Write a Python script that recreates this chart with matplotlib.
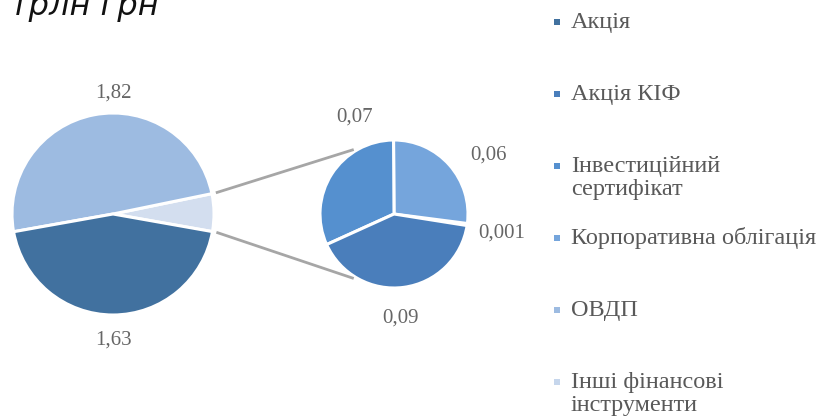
import matplotlib
matplotlib.use("Agg")
import numpy as np
import matplotlib.pyplot as plt

# data (трлн грн)
categories = [
    "Акція",
    "Акція КІФ",
    "Інвестиційний\nсертифікат",
    "Корпоративна облігація",
    "ОВДП",
    "Інші фінансові\nінструменти",
]
colors = ["#41719F", "#4A7EBB", "#5590CF", "#75A5DC", "#9DBBE1", "#C6D6EC"]

# main pie: ОВДП, Акція (plus the combined "other" slice)
main_values = [1.82, 1.63]
main_idx = [4, 0]
# secondary pie: Інші, Корпоративна, Інвестиційний, Акція КІФ
sub_values = [0.001, 0.06, 0.07, 0.09]
sub_idx = [5, 3, 2, 1]
other_color = "#D3DEEF"

W, H = 826, 419
fig = plt.figure(figsize=(W / 100, H / 100), dpi=100)
ax = fig.add_axes([0, 0, 1, 1])

main_c, main_r = (113, H - 214), 101
sub_c, sub_r = (394, H - 214), 74
edge = dict(edgecolor="white", linewidth=2.2)

main_all = [sum(sub_values)] + main_values
main_cols = [other_color] + [colors[i] for i in main_idx]
frac = main_all[0] / sum(main_all) * 360
w_main, _ = ax.pie(main_all, colors=main_cols, center=main_c, radius=main_r,
                   startangle=-frac / 2 + 0.8, counterclock=True, wedgeprops=edge)
w_sub, _ = ax.pie(sub_values, colors=[colors[i] for i in sub_idx], center=sub_c,
                  radius=sub_r, startangle=-9, counterclock=True, wedgeprops=edge)

# connector lines from the "other" slice to the secondary pie
oth = w_main[0]
for th_main, th_sub in [(oth.theta2, 122), (oth.theta1, 238)]:
    a, b = np.deg2rad(th_main), np.deg2rad(th_sub)
    x0 = main_c[0] + (main_r + 4) * np.cos(a)
    y0 = main_c[1] + (main_r + 4) * np.sin(a)
    x1 = sub_c[0] + (sub_r + 2) * np.cos(b)
    y1 = sub_c[1] + (sub_r + 2) * np.sin(b)
    ax.plot([x0, x1], [y0, y1], color="#A6A6A6", linewidth=2, solid_capstyle="butt")


def fmt(v):
    return str(v).replace(".", ",")


label_kw = dict(ha="center", va="center", fontsize=15, color="#666666",
                family="Liberation Serif")
# label placement: (angle deg, distance in radii)
main_lab = [(90, 1.2), (-90, 1.25)]
for v, (ang, d) in zip(main_values, main_lab):
    a = np.deg2rad(ang)
    ax.text(main_c[0] + d * main_r * np.cos(a), main_c[1] + d * main_r * np.sin(a),
            fmt(v), **label_kw)
sub_lab = [(-10, 1.48), (32, 1.5), (112, 1.41), (-86.7, 1.41)]
for v, (ang, d) in zip(sub_values, sub_lab):
    a = np.deg2rad(ang)
    ax.text(sub_c[0] + d * sub_r * np.cos(a), sub_c[1] + d * sub_r * np.sin(a),
            fmt(v), **label_kw)

# legend: entries at even steps, first line aligned to the marker
for i, (name, col) in enumerate(zip(categories, colors)):
    y = H - 22 - i * 72
    ax.scatter([557], [y], marker="s", s=22, color=col, linewidths=0)
    for k, line in enumerate(name.split("\n")):
        ax.text(571, y - 6 - k * 23, line, ha="left", va="baseline", fontsize=17.5,
                color="#595959", family="Liberation Serif")

ax.text(10, H - 15, "трлн грн", ha="left", va="baseline", fontsize=23,
        style="italic", color="#111111", family="DejaVu Sans")

ax.set_xlim(0, W)
ax.set_ylim(0, H)
ax.set_aspect("equal")
ax.axis("off")
fig.savefig("out.png", dpi=100)
